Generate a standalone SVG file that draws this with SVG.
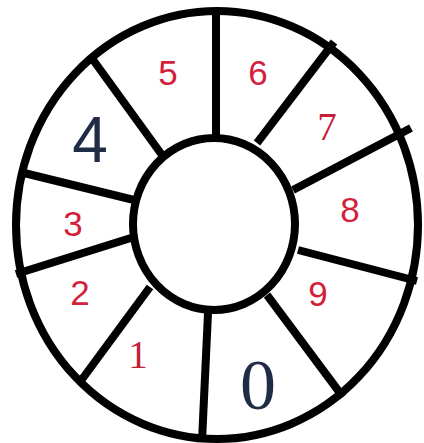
<svg xmlns="http://www.w3.org/2000/svg" width="424" height="443" viewBox="0 0 424 443">
<style>
.ring{fill:none;stroke:#000;stroke-width:8}
.sp{stroke:#000;stroke-width:8;stroke-linecap:butt}
.r{fill:#d41f3c;font-family:"Liberation Sans",Arial,sans-serif;font-size:35px;text-anchor:middle}
.rs{fill:#c41f3a;font-family:"Liberation Serif","Times New Roman",serif;font-size:39px;text-anchor:middle}
.b{fill:#1f2c44;font-family:"Liberation Serif","Times New Roman",serif;font-size:72px;text-anchor:middle}
.bs{fill:#1f2c44;font-family:"Liberation Sans",Arial,sans-serif;font-size:64px;text-anchor:middle}
</style>
<rect width="424" height="443" fill="#fff"/>
<g id="rings">
<ellipse class="ring" cx="217" cy="225" rx="201" ry="214"/>
<ellipse class="ring" cx="214" cy="224" rx="81" ry="86"/>
</g>
<g id="connectors">
<line class="sp" x1="216" y1="8" x2="216" y2="138"/>
<line class="sp" x1="334" y1="42" x2="257" y2="143"/>
<line class="sp" x1="411" y1="128" x2="293" y2="190"/>
<line class="sp" x1="298" y1="250" x2="417" y2="281"/>
<line class="sp" x1="267" y1="295" x2="343" y2="397"/>
<line class="sp" x1="208" y1="313" x2="202" y2="441"/>
<line class="sp" x1="150" y1="287" x2="80" y2="382"/>
<line class="sp" x1="134" y1="237" x2="16" y2="274"/>
<line class="sp" x1="134" y1="200" x2="20" y2="172"/>
<line class="sp" x1="162" y1="155" x2="91" y2="57"/>
</g>
<g id="s5"><text class="r" x="168" y="85">5</text></g>
<g id="s6"><text class="r" x="258" y="85">6</text></g>
<g id="s7"><text class="rs" x="327" y="140">7</text></g>
<g id="s8"><text class="r" x="350" y="222">8</text></g>
<g id="s9"><text class="r" x="318" y="306">9</text></g>
<g id="s0"><text class="b" x="258" y="409">0</text></g>
<g id="s1"><text class="rs" x="138" y="368">1</text></g>
<g id="s2"><text class="r" x="80" y="305">2</text></g>
<g id="s3"><text class="r" x="73" y="236">3</text></g>
<g id="s4"><text class="bs" x="90" y="162">4</text></g>
</svg>
